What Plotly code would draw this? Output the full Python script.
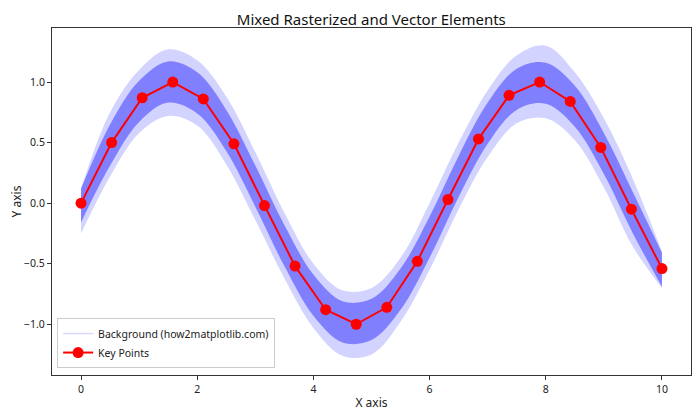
import plotly.graph_objects as go

# Key points
key_x = [0.0, 0.526, 1.053, 1.579, 2.105, 2.632, 3.158, 3.684, 4.211, 4.737,
         5.263, 5.789, 6.316, 6.842, 7.368, 7.895, 8.421, 8.947, 9.474, 10.0]
key_y = [0.00, 0.50, 0.87, 1.00, 0.86, 0.49, -0.02, -0.52, -0.88, -1.00,
         -0.86, -0.48, 0.03, 0.53, 0.89, 1.00, 0.84, 0.46, -0.05, -0.54]

# Background noisy band envelope
band_x = [0.0, 0.5, 1.0, 1.5, 2.0, 2.5, 3.0, 3.5, 4.0, 4.5,
          5.0, 5.5, 6.0, 6.5, 7.0, 7.5, 8.0, 8.5, 9.0, 9.5, 10.0]
outer_upper = [0.12, 0.75, 1.10, 1.27, 1.18, 0.88, 0.42, -0.08, -0.50, -0.72,
               -0.70, -0.45, 0.00, 0.50, 0.93, 1.22, 1.30, 1.08, 0.70, 0.20, -0.40]
outer_lower = [-0.25, 0.22, 0.58, 0.72, 0.64, 0.32, -0.14, -0.62, -1.03, -1.26,
               -1.25, -0.98, -0.55, -0.05, 0.38, 0.66, 0.70, 0.52, 0.13, -0.36, -0.70]
inner_upper = [0.12, 0.65, 1.01, 1.17, 1.08, 0.77, 0.31, -0.18, -0.59, -0.81,
               -0.79, -0.54, -0.11, 0.39, 0.83, 1.11, 1.16, 0.97, 0.58, 0.09, -0.41]
inner_lower = [-0.16, 0.31, 0.67, 0.83, 0.74, 0.43, -0.03, -0.52, -0.93, -1.15,
               -1.13, -0.88, -0.45, 0.05, 0.49, 0.77, 0.82, 0.63, 0.24, -0.25, -0.69]

FONT = "Noto Sans"
fig = go.Figure()

# outer band
fig.add_trace(go.Scatter(x=band_x, y=outer_upper, mode="lines", line=dict(width=0, shape="spline"),
                         showlegend=False, hoverinfo="skip"))
fig.add_trace(go.Scatter(x=band_x, y=outer_lower, mode="lines", line=dict(width=0, shape="spline"),
                         fill="tonexty", fillcolor="rgba(128,128,255,0.35)",
                         showlegend=False, hoverinfo="skip"))
# inner band
fig.add_trace(go.Scatter(x=band_x, y=inner_upper, mode="lines", line=dict(width=0, shape="spline"),
                         showlegend=False, hoverinfo="skip"))
fig.add_trace(go.Scatter(x=band_x, y=inner_lower, mode="lines", line=dict(width=0, shape="spline"),
                         fill="tonexty", fillcolor="rgb(128,128,255)",
                         showlegend=False, hoverinfo="skip"))
# legend entry for background
fig.add_trace(go.Scatter(x=[None], y=[None], mode="lines",
                         line=dict(color="rgba(128,128,255,0.3)", width=1.5),
                         name="Background (how2matplotlib.com)"))

fig.add_trace(go.Scatter(x=key_x, y=key_y, mode="lines+markers",
                         line=dict(color="red", width=2),
                         marker=dict(color="red", size=11),
                         name="Key Points"))

axis_common = dict(showline=True, linecolor="#333", linewidth=1, mirror=True,
                   ticks="outside", ticklen=4, tickcolor="#333", showgrid=False,
                   zeroline=False, automargin=False, tickfont=dict(size=10.5, color="#222"))

fig.update_layout(
    width=692, height=412,
    margin=dict(l=44, r=9, t=20, b=45),
    paper_bgcolor="white", plot_bgcolor="white",
    font=dict(family=FONT, color="#222"),
    title=dict(text="Mixed Rasterized and Vector Elements", x=0.525, xanchor="center",
               y=0.971, yanchor="middle", font=dict(size=15, color="#111")),
    xaxis=dict(range=[-0.5, 10.5], tickvals=[0, 2, 4, 6, 8, 10],
               title=dict(text="X axis", font=dict(size=12), standoff=4), **axis_common),
    yaxis=dict(range=[-1.419, 1.446], tickvals=[-1.0, -0.5, 0.0, 0.5, 1.0], tickformat=".1f",
               title=dict(text="Y axis", font=dict(size=12), standoff=6), **axis_common),
    legend=dict(x=0.008, y=0.02, xanchor="left", yanchor="bottom", traceorder="normal",
                bgcolor="rgba(255,255,255,0.8)", bordercolor="#ccc", borderwidth=1,
                font=dict(size=10.5), tracegroupgap=0),
)

fig.write_html("out.html")
